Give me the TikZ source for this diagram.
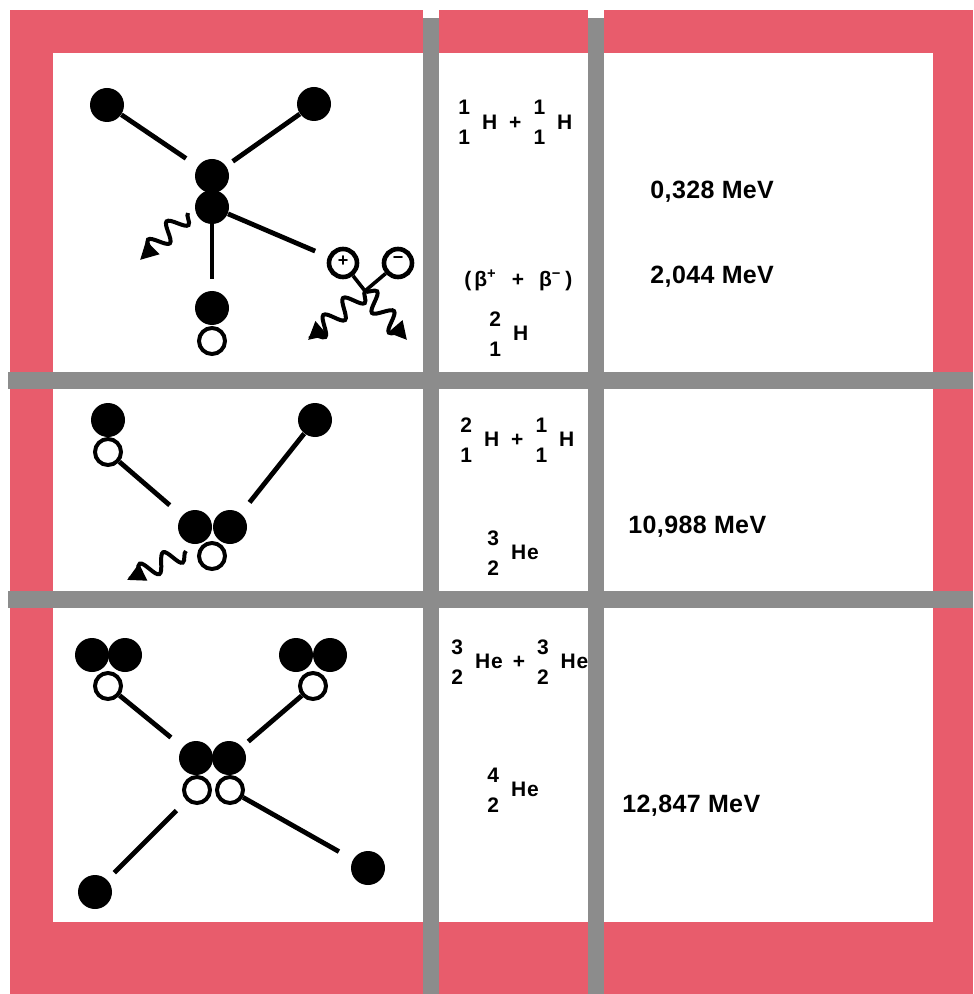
\documentclass[tikz,border=0pt]{standalone}
\usepackage{fontspec}
\setmainfont{Liberation Sans}[LetterSpace=4]
\newfontfamily\energyfont{Liberation Sans}[LetterSpace=1.5]
\usepackage{tikz}
\usetikzlibrary{arrows.meta, positioning, decorations.pathmorphing, calc}

\definecolor{framered}{RGB}{232,92,108}
\definecolor{bargray}{RGB}{140,140,140}

% mass number over charge number, symbol to the right
\newcommand{\nuc}[3]{\begin{tabular}[c]{@{}c@{}}#1\\#2\end{tabular}\hspace{6pt}#3}
\newcommand{\plus}{\hspace{6pt}+\hspace{6pt}}

\begin{document}
\begin{tikzpicture}[
            x=0.5pt, y=-0.5pt,
            proton/.style={circle, fill=black, minimum size=17pt, inner sep=0pt},
            neutron/.style={circle, draw=black, line width=2pt, fill=white, minimum size=13pt, inner sep=0pt},
            lepton/.style={neutron, line width=2.3pt, minimum size=14pt, font=\bfseries\small},
            bond/.style={line width=2.4pt},
            pair/.style={line width=1.8pt},
            photon/.style={line width=2pt, -{Triangle[length=9pt, width=9pt]}, decorate,
                decoration={snake, segment length=13pt, amplitude=4.5pt, post length=3pt}},
            formula/.style={anchor=west, inner sep=0pt, font=\fontsize{10.5}{15}\selectfont\bfseries},
            energy/.style={anchor=west, inner sep=0pt, font=\energyfont\fontsize{12.5}{15}\selectfont\bfseries}
        ]
        \useasboundingbox (0,0) rectangle (973,994);

        % --- Frame and panels ---
        \fill[framered] (10,10) rectangle (973,994);
        \fill[white] (53,53) rectangle (933,922);
        \fill[white] (423,10) rectangle (439,18);
        \fill[white] (588,10) rectangle (604,18);

        % --- Row 1: p + p -> d ---
        \node[proton] (pa) at (107,105) {};
        \node[proton] (pb) at (314,104) {};
        \node[proton] (c1) at (212,176) {};
        \node[proton] (c2) at (212,207) {};
        \node[proton] (d1) at (212,308) {};
        \node[neutron] (d2) at (212,341) {};
        \node[lepton] (ep) at (343,263) {\raisebox{2pt}{+}};
        \node[lepton] (em) at (398,263) {\raisebox{3pt}{−}};
        \coordinate (jn) at (365,291);

        \draw[bond, shorten >=7pt] (pa) -- (c1);
        \draw[bond, shorten >=4pt] (pb) -- (c1);
        \draw[bond, shorten >=7pt] (c2) -- (ep);
        \draw[bond, shorten >=6pt] (c2) -- (d1);
        \draw[pair] (ep) -- (jn);
        \draw[pair] (em) -- (jn);

        \coordinate (g1s) at (188,213);
        \coordinate (g1e) at (140,260);
        \coordinate (g2e) at (308,340);
        \coordinate (g3e) at (407,340);
        \draw[photon] (g1s) -- (g1e);
        \draw[photon] (jn) -- (g2e);
        \draw[photon] (jn) -- (g3e);

        % --- Row 2: d + p -> He3 ---
        \node[proton] (qa) at (108,420) {};
        \node[neutron] (qb) at (108,452) {};
        \node[proton] (qc) at (315,420) {};
        \node[proton] (h1) at (195,527) {};
        \node[proton] (h2) at (230,527) {};
        \node[neutron] (h3) at (212,556) {};

        \draw[bond, shorten >=8pt] (qb) -- (h1);
        \draw[bond, shorten >=7pt] (qc) -- (h2);

        \coordinate (g4s) at (186,551);
        \coordinate (g4e) at (127,580);
        \draw[photon] (g4s) -- (g4e);

        % --- Row 3: He3 + He3 -> He4 + 2p ---
        \node[proton] (ua1) at (92,655) {};
        \node[proton] (ua2) at (125,655) {};
        \node[neutron] (ua3) at (108,686) {};
        \node[proton] (ub1) at (296,655) {};
        \node[proton] (ub2) at (330,655) {};
        \node[neutron] (ub3) at (313,686) {};

        \node[proton] (v1) at (196,758) {};
        \node[proton] (v2) at (229,758) {};
        \node[neutron] (v3) at (197,790) {};
        \node[neutron] (v4) at (230,790) {};

        \node[proton] (wa) at (95,892) {};
        \node[proton] (wb) at (368,868) {};

        \draw[bond, shorten >=7.5pt] (ua3) -- (v1);
        \draw[bond, shorten >=4pt] (ub3) -- (v2);
        \draw[bond, shorten <=5pt, shorten >=7pt] (wa) -- (v3);
        \draw[bond, shorten <=8pt] (wb) -- (v4);

        % --- Reactions ---
        \node[formula] (r1a) at (458,124) {\nuc{1}{1}{H}\plus\nuc{1}{1}{H}};
        \node[formula] (r1b) at (464,280) {(\hspace{1.5pt}β\textsuperscript{+}\hspace{7.5pt}+\hspace{7.5pt}β\textsuperscript{−}\hspace{2pt})};
        \node[formula] (r1c) at (489,335) {\nuc{2}{1}{H}};
        \node[formula] (r2a) at (460,441) {\nuc{2}{1}{H}\plus\nuc{1}{1}{H}};
        \node[formula] (r2b) at (487,554) {\nuc{3}{2}{He}};
        \node[formula] (r3a) at (451,663) {\nuc{3}{2}{He}\hspace{-1pt}\plus\nuc{3}{2}{He}};
        \node[formula] (r3b) at (487,791) {\nuc{4}{2}{He}};

        % --- Energies ---
        \node[energy] (e1) at (650,192) {0,328 MeV};
        \node[energy] (e2) at (650,277) {2,044 MeV};
        \node[energy] (e3) at (628,527) {10,988 MeV};
        \node[energy] (e4) at (622,806) {12,847 MeV};

        % --- Grid bars (drawn last) ---
        \fill[bargray] (423,18) rectangle (439,994);
        \fill[bargray] (588,18) rectangle (604,994);
        \fill[bargray] (8,372) rectangle (973,389);
        \fill[bargray] (8,591) rectangle (973,608);

\end{tikzpicture}
\end{document}
